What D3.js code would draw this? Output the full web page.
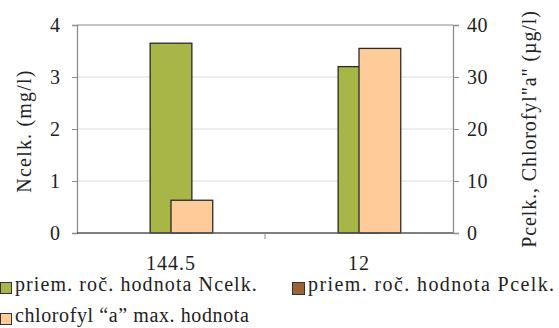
<!DOCTYPE html>
<html>
<head>
<meta charset="utf-8">
<script src="https://cdn.jsdelivr.net/npm/d3@7"></script>
<style>
  html, body { margin: 0; padding: 0; background: #fff; }
  svg { display: block; }
  svg text { fill: #222; }
</style>
</head>
<body>
<svg id="chart" width="559" height="328"></svg>
<script>
// Sampling sites (x categories)
const categories = ["144.5", "12"];
// Primary axis: mean annual total nitrogen (mg/l)
const nCelk = [3.65, 3.2];
// Secondary axis: mean annual total phosphorus and max chlorophyll "a" (µg/l)
const pCelk = [0, 0];
const chlorofyl = [6.3, 35.5];
// Axis ticks
const leftTicks = [0, 1, 2, 3, 4];
const rightTicks = [0, 10, 20, 30, 40];

const seriesNames = {
  n: "priem. roč. hodnota Ncelk.",
  p: "priem. roč. hodnota Pcelk.",
  chl: "chlorofyl \u201ca\u201d max. hodnota"
};
const colors = { n: "#a7b646", p: "#9a6438", chl: "#ffcc99" };
const FONT = "'Times New Roman', 'Liberation Serif', Tinos, 'DejaVu Serif', serif";

const svg = d3.select("#chart");
const plot = { left: 77, right: 453, top: 25, bottom: 233 };

const x = d3.scaleBand().domain(categories).range([plot.left, plot.right]);
const yL = d3.scaleLinear().domain([0, 4]).range([plot.bottom, plot.top]);
const yR = d3.scaleLinear().domain([0, 40]).range([plot.bottom, plot.top]);

const barW = x.bandwidth() * 0.222;
// Secondary series share one slot per category, side by side
const sub = d3.scaleBand().domain(["p", "chl"]).range([-barW, barW]);

// Gridlines
svg.append("g")
  .selectAll("line")
  .data(leftTicks.slice(1, -1))
  .join("line")
  .attr("x1", plot.left).attr("x2", plot.right)
  .attr("y1", d => yL(d)).attr("y2", d => yL(d))
  .attr("stroke", "#dcdcdc").attr("stroke-width", 1);

// Plot frame top
svg.append("line")
  .attr("x1", plot.left).attr("x2", plot.right)
  .attr("y1", plot.top).attr("y2", plot.top)
  .attr("stroke", "#8c8c8c").attr("stroke-width", 1.2);

// Primary bars
svg.append("g")
  .selectAll("rect")
  .data(categories.map((c, i) => ({ c, v: nCelk[i] })))
  .join("rect")
  .attr("x", d => x(d.c) + x.bandwidth() / 2 - barW / 2)
  .attr("width", barW)
  .attr("y", d => yL(d.v))
  .attr("height", d => yL(0) - yL(d.v))
  .attr("fill", colors.n)
  .attr("stroke", "#2a2a2a").attr("stroke-width", 1.3);

// Secondary bars
const secData = [];
categories.forEach((c, i) => {
  secData.push({ c, k: "p", v: pCelk[i] });
  secData.push({ c, k: "chl", v: chlorofyl[i] });
});
svg.append("g")
  .selectAll("rect")
  .data(secData.filter(d => d.v > 0))
  .join("rect")
  .attr("x", d => x(d.c) + x.bandwidth() / 2 + sub(d.k))
  .attr("width", sub.bandwidth())
  .attr("y", d => yR(d.v))
  .attr("height", d => yR(0) - yR(d.v))
  .attr("fill", d => colors[d.k])
  .attr("stroke", "#2a2a2a").attr("stroke-width", 1.3);

// Left axis
const gL = svg.append("g")
  .attr("transform", `translate(${plot.left},0)`)
  .call(d3.axisLeft(yL).tickValues(leftTicks).tickSize(5).tickPadding(12).tickFormat(d3.format("d")))
  .attr("font-family", FONT).attr("font-size", 20);
gL.select(".domain").attr("stroke", "#8c8c8c").attr("stroke-width", 1.3);
gL.selectAll(".tick line").attr("stroke", "#8c8c8c");
gL.selectAll(".tick text").attr("fill", "#222");

// Right axis
const gR = svg.append("g")
  .attr("transform", `translate(${plot.right},0)`)
  .call(d3.axisRight(yR).tickValues(rightTicks).tickSize(6).tickPadding(8).tickFormat(d3.format("d")))
  .attr("font-family", FONT).attr("font-size", 20);
gR.select(".domain").attr("stroke", "#8c8c8c").attr("stroke-width", 1.3);
gR.selectAll(".tick line").attr("stroke", "#8c8c8c");
gR.selectAll(".tick text").attr("fill", "#222").attr("letter-spacing", 0.5);

// Bottom axis: ticks between categories, labels centered
const gB = svg.append("g").attr("transform", `translate(0,${plot.bottom})`)
  .attr("font-family", FONT);
gB.append("line")
  .attr("x1", plot.left).attr("x2", plot.right)
  .attr("stroke", "#555").attr("stroke-width", 1.3);
gB.selectAll("line.sep")
  .data(categories.slice(1))
  .join("line")
  .attr("class", "sep")
  .attr("x1", d => x(d)).attr("x2", d => x(d))
  .attr("y1", 0).attr("y2", 6)
  .attr("stroke", "#8c8c8c");
gB.selectAll("text")
  .data(categories)
  .join("text")
  .attr("x", d => x(d) + x.bandwidth() / 2)
  .attr("y", 37)
  .attr("text-anchor", "middle")
  .attr("font-size", 20)
  .attr("letter-spacing", 1)
  .text(d => d);

// Axis titles
svg.append("text")
  .attr("transform", `translate(31,${(plot.top + plot.bottom) / 2 + 2}) rotate(-90)`)
  .attr("text-anchor", "middle")
  .attr("font-family", FONT)
  .attr("font-size", 20)
  .attr("letter-spacing", 1.2)
  .text("Ncelk. (mg/l)");
svg.append("text")
  .attr("transform", `translate(536,${(plot.top + plot.bottom) / 2}) rotate(-90)`)
  .attr("text-anchor", "middle")
  .attr("font-family", FONT)
  .attr("font-size", 20)
  .attr("letter-spacing", 0.9)
  .text("Pcelk., Chlorofyl\"a\" (\u00b5g/l)");

// Legend
const legend = [
  { k: "n", x: 0, y: 282, s: 11, ls: 1.1 },
  { k: "p", x: 292, y: 282, s: 12, ls: 1.4 },
  { k: "chl", x: 0, y: 313, s: 11, ls: 0.6 }
];
const lg = svg.append("g").attr("font-family", FONT);
legend.forEach(d => {
  lg.append("rect")
    .attr("x", d.x + 0.5).attr("y", d.y + 0.5)
    .attr("width", d.s).attr("height", d.s)
    .attr("fill", colors[d.k])
    .attr("stroke", "#333").attr("stroke-width", 1);
  lg.append("text")
    .attr("x", d.x + d.s + 4)
    .attr("y", d.y + 9)
    .attr("font-size", 20)
    .attr("letter-spacing", d.ls)
    .text(seriesNames[d.k]);
});
</script>
</body>
</html>
